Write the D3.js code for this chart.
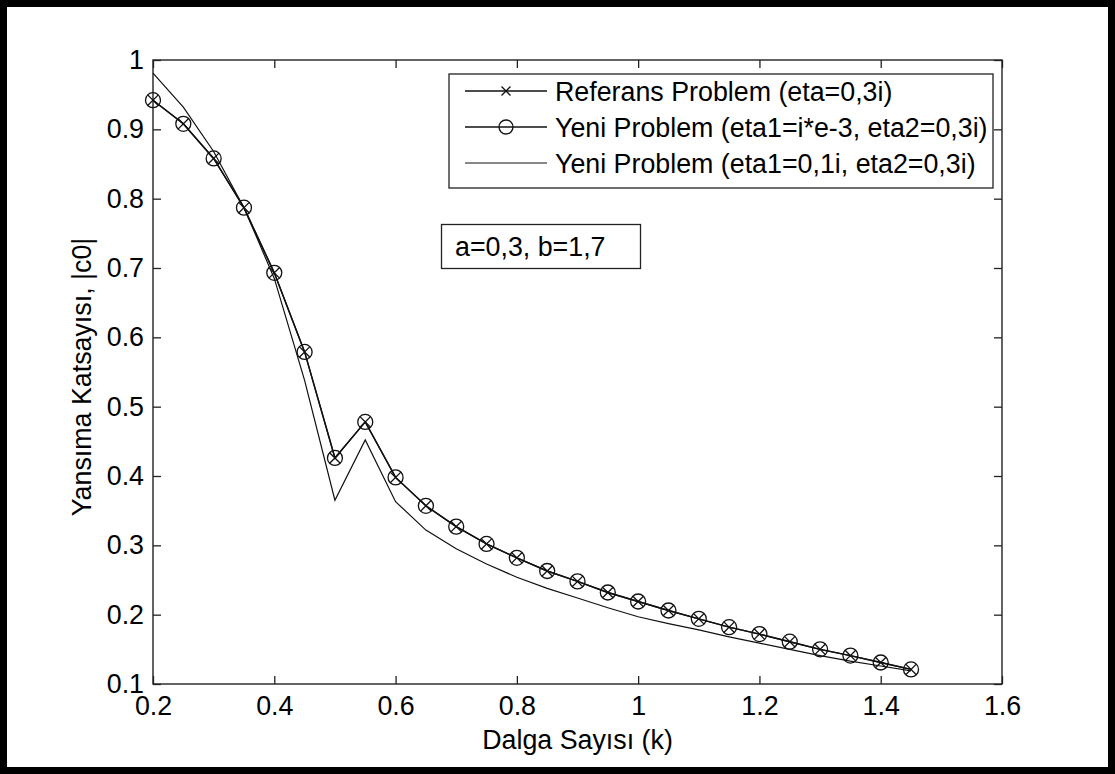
<!DOCTYPE html>
<html lang="tr">
  <head>
    <meta charset="utf-8">
    <title>Yansıma Katsayısı</title>
    <script src="https://d3js.org/d3.v7.min.js"></script>
    <style>
      body { margin: 0; background: #fff; }
      svg text { font-family: "Liberation Sans", Arial, sans-serif; fill: #000; }
    </style>
  </head>
  <body>
    <div id="main"></div>
    <script>
      // dalga sayisi (k)
      var kValues = [0.2, 0.25, 0.3, 0.35, 0.4, 0.45, 0.5, 0.55, 0.6, 0.65, 0.7, 0.75, 0.8,
                     0.85, 0.9, 0.95, 1.0, 1.05, 1.1, 1.15, 1.2, 1.25, 1.3, 1.35, 1.4, 1.45];
      // Referans Problem (eta=0,3i)
      var refValues = [0.942, 0.908, 0.858, 0.787, 0.693, 0.579, 0.426, 0.478, 0.398, 0.357, 0.327, 0.302, 0.282,
                       0.263, 0.248, 0.232, 0.219, 0.206, 0.194, 0.182, 0.172, 0.161, 0.150, 0.141, 0.131, 0.121];
      // Yeni Problem (eta1=i*e-3, eta2=0,3i)
      var new1Values = [0.942, 0.908, 0.858, 0.787, 0.693, 0.579, 0.426, 0.478, 0.398, 0.357, 0.327, 0.302, 0.282,
                        0.263, 0.248, 0.232, 0.219, 0.206, 0.194, 0.182, 0.172, 0.161, 0.150, 0.141, 0.131, 0.121];
      // Yeni Problem (eta1=0,1i, eta2=0,3i)
      var new2Values = [0.981, 0.932, 0.868, 0.787, 0.685, 0.538, 0.365, 0.452, 0.363, 0.322, 0.295, 0.273, 0.254,
                        0.238, 0.224, 0.210, 0.197, 0.187, 0.178, 0.168, 0.159, 0.150, 0.141, 0.133, 0.126, 0.119];

      var xTicks = [0.2, 0.4, 0.6, 0.8, 1.0, 1.2, 1.4, 1.6];
      var yTicks = [0.1, 0.2, 0.3, 0.4, 0.5, 0.6, 0.7, 0.8, 0.9, 1.0];
      var legendLabels = ["Referans Problem (eta=0,3i)",
                          "Yeni Problem (eta1=i*e-3, eta2=0,3i)",
                          "Yeni Problem (eta1=0,1i, eta2=0,3i)"];
      var noteText = "a=0,3, b=1,7";

      var W = 1115, H = 774;
      var plotL = 153, plotR = 1002, plotT = 60, plotB = 684;
      var fs = 26.8;

      var svg = d3.select("#main").append("svg")
        .attr("width", W)
        .attr("height", H);

      svg.append("rect")
        .attr("x", 3.5).attr("y", 3.5)
        .attr("width", W - 7).attr("height", H - 7)
        .attr("fill", "#fff")
        .attr("stroke", "#000")
        .attr("stroke-width", 7);//outer frame

      var x = d3.scaleLinear().domain([0.2, 1.6]).range([plotL, plotR]);
      var y = d3.scaleLinear().domain([0.1, 1.0]).range([plotB, plotT]);
      var fmt = function(d) { return String(+d.toFixed(1)); };

      var axes = svg.append("g").attr("class", "axes");
      axes.append("g")
        .attr("transform", "translate(0," + plotB + ")")
        .call(d3.axisBottom(x).tickValues(xTicks).tickFormat(fmt).tickSize(-8).tickPadding(12));
      axes.append("g")
        .attr("transform", "translate(0," + plotT + ")")
        .call(d3.axisTop(x).tickValues(xTicks).tickFormat("").tickSize(-8));
      axes.append("g")
        .attr("transform", "translate(" + plotL + ",0)")
        .call(d3.axisLeft(y).tickValues(yTicks).tickFormat(fmt).tickSize(-8).tickPadding(9));
      axes.append("g")
        .attr("transform", "translate(" + plotR + ",0)")
        .call(d3.axisRight(y).tickValues(yTicks).tickFormat("").tickSize(-8));
      axes.selectAll(".domain").remove();
      axes.selectAll(".tick line").attr("stroke", "#222").attr("stroke-width", 1.3);
      axes.selectAll(".tick text")
        .attr("font-size", fs)
        .attr("font-family", "'Liberation Sans', Arial, sans-serif")
        .attr("fill", "#000");

      svg.append("rect")
        .attr("x", plotL).attr("y", plotT)
        .attr("width", plotR - plotL).attr("height", plotB - plotT)
        .attr("fill", "none")
        .attr("stroke", "#222")
        .attr("stroke-width", 1.4);//plot box

      svg.append("text")
        .attr("x", (plotL + plotR) / 2)
        .attr("y", 749)
        .attr("text-anchor", "middle")
        .attr("font-size", fs)
        .text("Dalga Sayısı (k)");
      svg.append("text")
        .attr("transform", "translate(91," + ((plotT + plotB) / 2 + 5) + ") rotate(-90)")
        .attr("text-anchor", "middle")
        .attr("font-size", fs)
        .text("Yansıma Katsayısı, |c0|");

      var line = d3.line()
        .x(function(d) { return x(d[0]); })
        .y(function(d) { return y(d[1]); });
      var zip = function(vals) { return kValues.map(function(k, i) { return [k, vals[i]]; }); };

      var plot = svg.append("g");
      plot.append("path").datum(zip(new2Values))
        .attr("d", line).attr("fill", "none").attr("stroke", "#111").attr("stroke-width", 1.2);
      plot.append("path").datum(zip(new1Values))
        .attr("d", line).attr("fill", "none").attr("stroke", "#111").attr("stroke-width", 1.4);
      plot.append("path").datum(zip(refValues))
        .attr("d", line).attr("fill", "none").attr("stroke", "#111").attr("stroke-width", 1.4);

      function cross(g, cx, cy, s) {
        g.append("path")
          .attr("d", "M" + (cx - s) + "," + (cy - s) + "L" + (cx + s) + "," + (cy + s) +
                     "M" + (cx - s) + "," + (cy + s) + "L" + (cx + s) + "," + (cy - s))
          .attr("stroke", "#111").attr("stroke-width", 1.3).attr("fill", "none");
      }
      function ring(g, cx, cy, r) {
        g.append("circle").attr("cx", cx).attr("cy", cy).attr("r", r)
          .attr("stroke", "#111").attr("stroke-width", 1.3).attr("fill", "none");
      }
      zip(new1Values).forEach(function(d) { ring(plot, x(d[0]), y(d[1]), 7.5); });
      zip(refValues).forEach(function(d) { cross(plot, x(d[0]), y(d[1]), 5.3); });

      // legend
      var lg = svg.append("g");
      lg.append("rect")
        .attr("x", 449).attr("y", 74).attr("width", 544).attr("height", 114)
        .attr("fill", "#fff").attr("stroke", "#222").attr("stroke-width", 1.3);
      legendLabels.forEach(function(label, i) {
        var cy = 91 + i * 36;
        lg.append("line").attr("x1", 465).attr("x2", 547).attr("y1", cy).attr("y2", cy)
          .attr("stroke", "#111").attr("stroke-width", i == 2 ? 1.2 : 1.3);
        if (i == 0) cross(lg, 506, cy, 4.5);
        if (i == 1) ring(lg, 506, cy, 7);
        lg.append("text").attr("x", 555).attr("y", cy + 9.5).attr("font-size", fs).text(label);
      });

      // parametre kutusu
      svg.append("rect")
        .attr("x", 441.5).attr("y", 224.5).attr("width", 199).attr("height", 44)
        .attr("fill", "#fff").attr("stroke", "#222").attr("stroke-width", 1.3);
      svg.append("text").attr("x", 455).attr("y", 256).attr("font-size", fs).text(noteText);
    </script>
  </body>
</html>
